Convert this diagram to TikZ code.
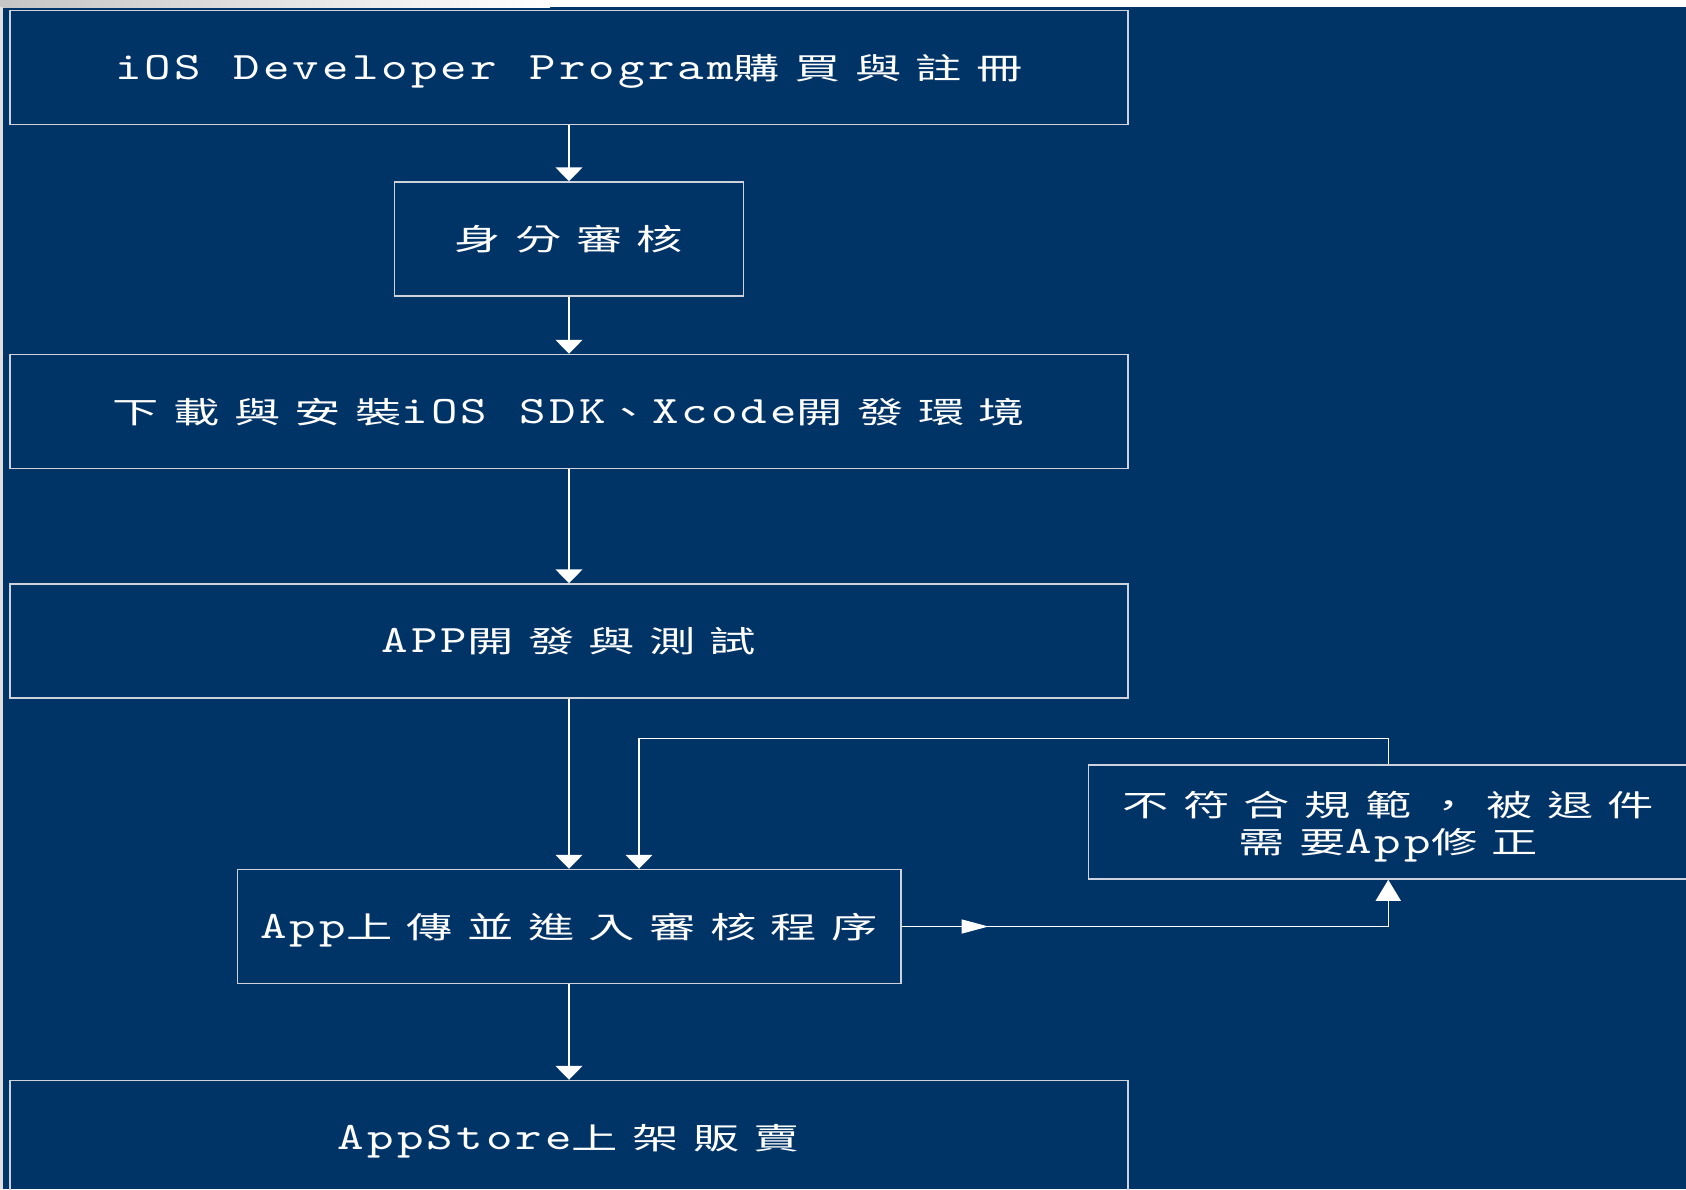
\documentclass[tikz,border=0pt]{standalone}
\usepackage{fontspec}
\newfontfamily\cjkfont[LetterSpace=48,FakeStretch=1.55]{Noto Sans CJK TC}
\newfontfamily\latfont[Extension=.otf,Scale=1.3,FakeStretch=1.3,LetterSpace=8,WordSpace={1.1,0,0}]{lmmono10-regular}
\usetikzlibrary{calc,positioning,arrows.meta}
\definecolor{slidenavy}{RGB}{0,51,102}
\definecolor{edgegray}{RGB}{205,210,220}

\begin{document}
\begin{tikzpicture}[
  stepbox/.style={draw=edgegray,line width=0.3mm,rectangle,minimum height=22.8mm,text=white,font=\fontsize{17}{21}\selectfont,text height=5mm,text depth=0.4mm},
  >={Triangle[width=5.4mm,length=2.8mm]},
  link/.style={->,white,line width=0.3mm}
]
\useasboundingbox (0,0) rectangle (337.2mm,-237.8mm);
\clip (0,0) rectangle (337.2mm,-237.8mm);
\fill[slidenavy] (0,0) rectangle (337.2mm,-237.8mm);
\shade[left color=gray!45,right color=white] (0,0) rectangle (110mm,-1.4mm);
\fill[white] (110mm,0) rectangle (337.2mm,-1.4mm);
\fill[gray!25] (0,-1.4mm) rectangle (0.6mm,-237.8mm);

\node [stepbox,minimum width=223.6mm] (ios) at (113.8mm,-13.5mm) {{\latfont iOS Developer Program}{\cjkfont 購買與註冊}};
\node [stepbox,minimum width=69.8mm,below=11.2mm of ios] (identity) {{\cjkfont 身分審核}};
\node [stepbox,minimum width=223.6mm,below=11.4mm of identity] (sdk) {{\cjkfont 下載與安裝}{\latfont iOS SDK}{\cjkfont 、}{\latfont Xcode}{\cjkfont 開發環境}};
\node [stepbox,minimum width=223.6mm,below=22.8mm of sdk] (develop) {{\latfont APP}{\cjkfont 開發與測試}};
\node [stepbox,minimum width=132.7mm,below=34mm of develop] (review) {{\latfont App}{\cjkfont 上傳並進入審核程序}};
\node [stepbox,minimum width=223.6mm,below=19.1mm of review] (store) {{\latfont AppStore}{\cjkfont 上架販賣}};
\node [stepbox,align=center,text height=12.8mm,text depth=0.2mm,minimum width=120mm,right=37.2mm of review,yshift=20.9mm] (reject) {{\cjkfont 不符合規範，被退件}\\{\cjkfont 需要}{\latfont App}{\cjkfont 修正}};

% main flow
\draw[link] (ios) -- (identity);
\draw[link] (identity) -- (sdk);
\draw[link] (sdk) -- (develop);
\draw[link] (develop) -- (review);
\draw[link] (review) -- (store);

% rejected, back into review
\coordinate (reenter) at ($(review.north)+(14mm,0)$);
\draw[link] (reject.north) -- ++(0,5.2mm) -| (reenter);

\coordinate (midtip) at ($(review.east)+(17.4mm,0)$);
\draw[white,line width=0.3mm,-{Triangle[width=5mm,length=4.2mm]}] (review.east) -| (reject.south);
\draw[white,line width=0.3mm,-{Triangle[width=2.8mm,length=5.4mm]}] (review.east) -- (midtip);

\end{tikzpicture}
\end{document}
